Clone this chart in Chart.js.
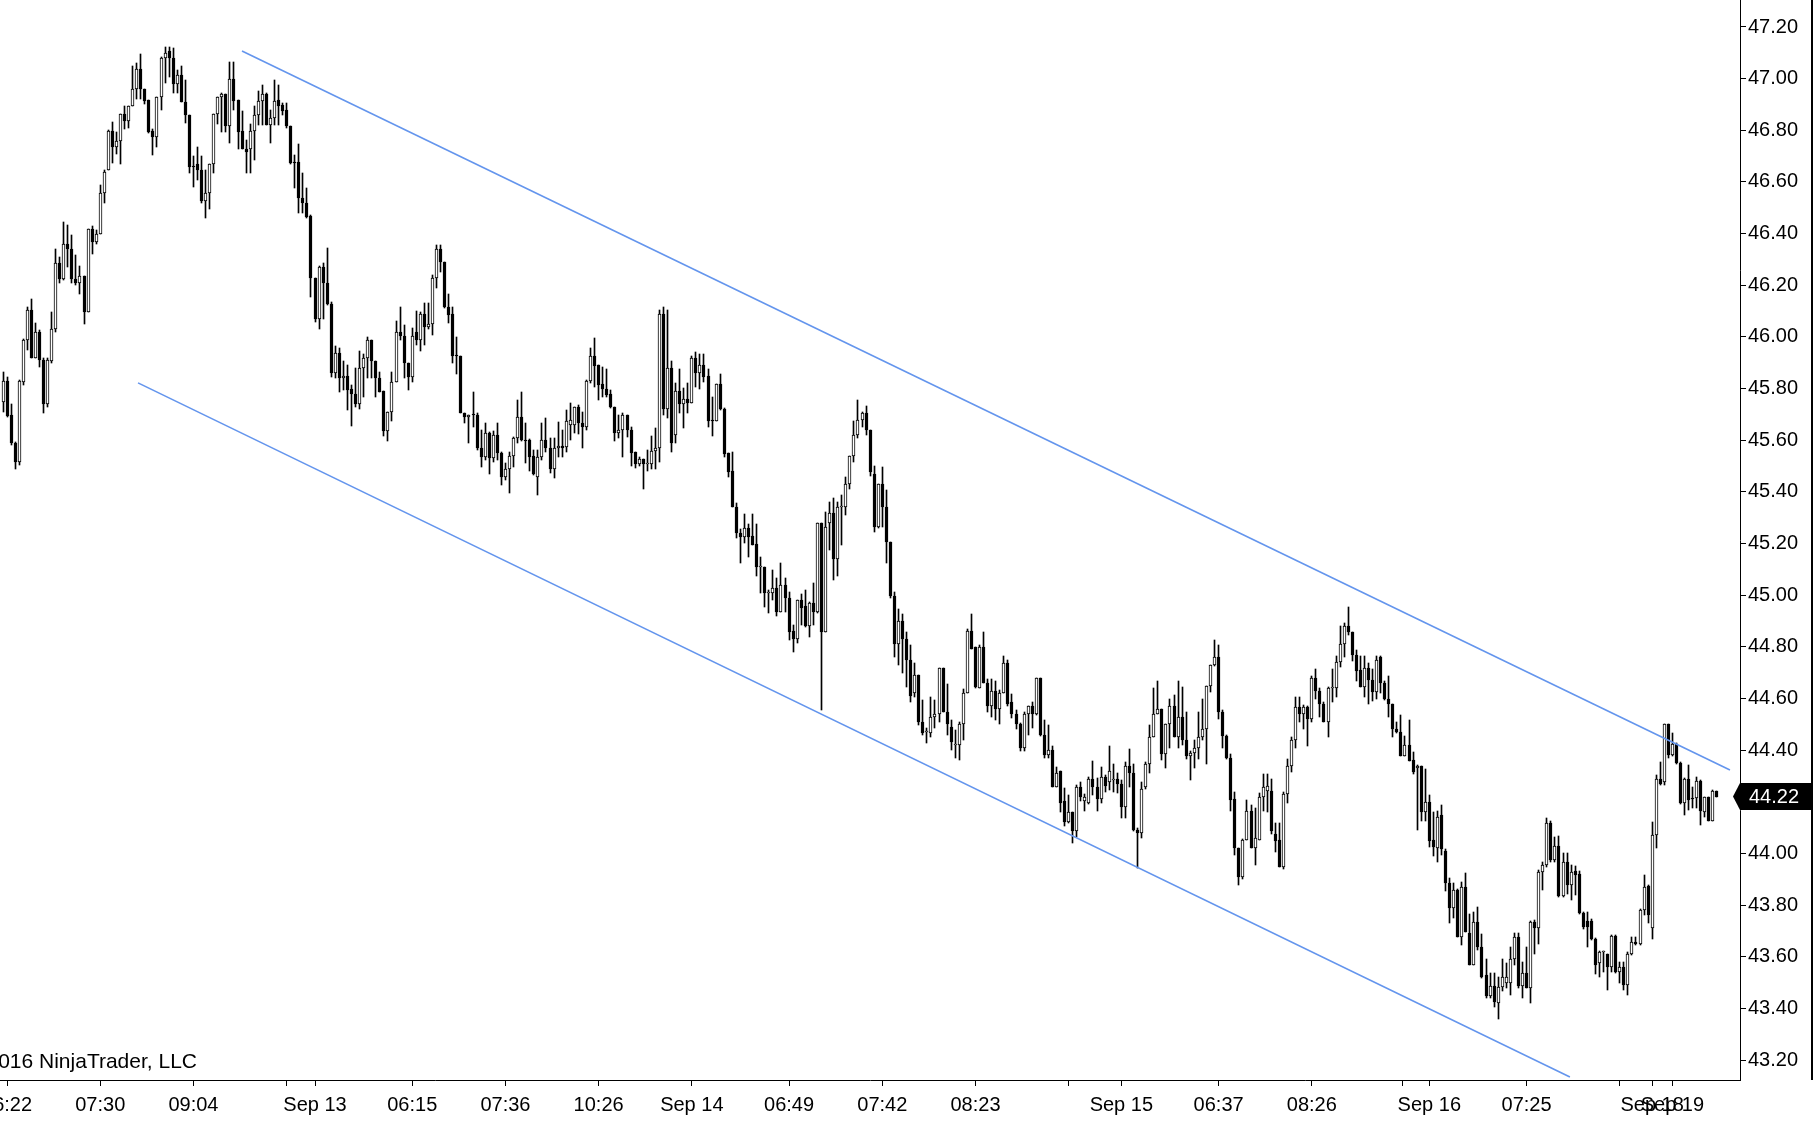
<!DOCTYPE html>
<html><head><meta charset="utf-8">
<script src="https://cdn.jsdelivr.net/npm/chart.js@4.4.0/dist/chart.umd.min.js"></script>
<style>html,body{margin:0;padding:0;background:#fff;overflow:hidden}#wrap{width:1816px;height:1121px;position:relative}</style>
</head><body><div id="wrap"><canvas id="c"></canvas></div>
<script>
const openP=[
45.746,45.829,45.697,45.590,45.517,45.826,45.988,46.106,45.917,46.019,
45.91,45.74,45.908,46.029,46.288,46.226,46.358,46.339,46.226,46.207,
46.237,46.097,46.416,46.366,46.397,46.556,46.648,46.797,46.736,46.758,
46.865,46.837,46.895,46.958,47.036,46.958,46.917,46.797,46.775,46.927,
47.078,47.108,47.078,46.979,47.016,46.908,46.859,46.659,46.669,46.648,
46.527,46.556,46.669,46.865,46.927,46.94,46.818,46.997,46.917,46.797,
46.728,46.726,46.797,46.858,46.915,46.941,46.821,46.846,46.917,46.897,
46.879,46.818,46.676,46.676,46.537,46.517,46.468,46.227,46.068,46.27,
46.207,46.127,45.859,45.936,45.84,45.849,45.797,45.778,45.739,45.878,
45.917,45.988,45.908,45.84,45.791,45.637,45.711,45.827,46.018,46.005,
45.898,45.846,46.018,45.988,46.087,46.037,46.049,46.227,46.339,46.289,
46.117,46.089,45.927,45.927,45.707,45.689,45.698,45.698,45.569,45.536,
45.627,45.53,45.62,45.552,45.459,45.487,45.539,45.607,45.689,45.601,
45.601,45.539,45.459,45.536,45.601,45.569,45.487,45.569,45.578,45.575,
45.659,45.659,45.727,45.668,45.65,45.829,45.927,45.891,45.816,45.797,
45.779,45.73,45.627,45.64,45.698,45.64,45.556,45.507,45.529,45.507,
45.507,45.558,45.569,46.087,45.72,45.878,45.62,45.79,45.74,45.758,
45.745,45.917,45.859,45.891,45.849,45.678,45.676,45.816,45.72,45.549,
45.481,45.34,45.239,45.227,45.259,45.229,45.197,45.11,45.108,45.01,
45.007,45.027,44.936,45.039,44.99,44.861,44.829,44.981,44.958,44.881,
44.968,44.936,45.278,44.859,45.278,45.317,45.139,45.34,45.343,45.43,
45.539,45.62,45.678,45.707,45.64,45.469,45.265,45.43,45.34,45.207,
44.998,44.81,44.9,44.829,44.749,44.62,44.691,44.51,44.472,44.468,
44.527,44.54,44.717,44.549,44.488,44.42,44.42,44.501,44.62,44.863,
44.798,44.64,44.798,44.659,44.571,44.629,44.558,44.62,44.739,44.588,
44.54,44.501,44.407,44.54,44.571,44.54,44.678,44.459,44.381,44.401,
44.259,44.319,44.201,44.12,44.159,44.087,44.259,44.201,44.197,44.287,
44.259,44.21,44.297,44.278,44.284,44.287,44.267,44.178,44.338,44.31,
44.09,44.078,44.258,44.348,44.449,44.538,44.559,44.385,44.501,44.571,
44.449,44.527,44.439,44.378,44.387,44.407,44.449,44.48,44.648,44.729,
44.759,44.549,44.456,44.368,44.209,44.019,43.907,44.052,44.165,44.019,
44.052,44.217,44.24,44.241,44.077,44.052,43.948,44.23,44.338,44.439,
44.568,44.538,44.568,44.519,44.678,44.629,44.578,44.507,44.639,44.639,
44.74,44.811,44.88,44.858,44.768,44.71,44.645,44.716,44.671,44.626,
44.759,44.658,44.596,44.577,44.48,44.469,44.378,44.42,44.361,44.33,
44.339,44.159,44.198,44.052,44.019,44.148,44.009,43.887,43.787,43.858,
43.677,43.868,43.693,43.568,43.735,43.639,43.529,43.448,43.488,43.42,
43.484,43.5,43.5,43.59,43.677,43.486,43.538,43.477,43.735,43.71,
43.929,43.955,44.119,43.974,44.029,43.835,43.968,43.878,43.933,43.92,
43.768,43.74,43.74,43.667,43.577,43.619,43.61,43.559,43.68,43.542,
43.559,43.49,43.609,43.658,43.648,43.781,43.874,43.71,44.071,44.287,
44.278,44.501,44.381,44.424,44.351,44.197,44.288,44.216,44.216,44.282,
44.162,44.217,44.127,44.243];
const highP=[
45.865,45.846,45.742,45.594,45.835,45.99,46.117,46.145,46.052,46.026,
45.917,45.917,46.097,46.342,46.31,46.446,46.433,46.394,46.317,46.274,
46.237,46.416,46.429,46.413,46.588,46.646,46.8,46.833,46.794,46.865,
46.894,46.895,47.049,47.059,47.095,46.958,46.917,46.805,46.927,47.085,
47.123,47.123,47.117,47.033,47.049,46.994,46.859,46.7,46.734,46.7,
46.646,46.669,46.865,46.927,46.945,46.94,47.063,47.063,46.917,46.875,
46.763,46.824,46.894,46.954,46.975,46.943,46.879,46.995,46.975,46.907,
46.907,46.818,46.704,46.747,46.636,46.578,46.472,46.227,46.275,46.285,
46.343,46.136,45.965,45.956,45.908,45.891,45.814,45.878,45.945,45.934,
45.998,45.988,45.908,45.866,45.791,45.711,45.866,46.063,46.114,46.046,
45.898,46.033,46.102,46.098,46.13,46.13,46.24,46.356,46.356,46.289,
46.165,46.115,46.0,45.927,45.707,45.698,45.785,45.707,45.639,45.668,
45.633,45.637,45.668,45.556,45.51,45.556,45.614,45.756,45.785,45.668,
45.603,45.562,45.562,45.668,45.685,45.607,45.607,45.672,45.64,45.717,
45.745,45.73,45.736,45.711,45.833,45.956,45.994,45.891,45.885,45.874,
45.794,45.73,45.698,45.707,45.698,45.652,45.556,45.536,45.529,45.562,
45.616,45.646,46.104,46.117,46.104,45.907,45.82,45.874,45.801,45.82,
45.926,45.943,45.934,45.934,45.874,45.766,45.816,45.856,45.724,45.552,
45.553,45.356,45.255,45.313,45.276,45.313,45.276,45.149,45.11,45.02,
45.098,45.065,45.123,45.065,45.014,44.884,44.981,45.005,45.02,44.975,
45.046,45.278,45.278,45.323,45.362,45.375,45.362,45.388,45.459,45.539,
45.676,45.756,45.711,45.733,45.64,45.5,45.43,45.498,45.407,45.207,
45.014,44.945,44.926,44.856,44.807,44.736,44.691,44.594,44.485,44.607,
44.594,44.717,44.717,44.656,44.517,44.478,44.51,44.636,44.868,44.927,
44.798,44.807,44.856,44.674,44.674,44.668,44.633,44.765,44.747,44.617,
44.556,44.504,44.549,44.571,44.588,44.678,44.678,44.517,44.498,44.414,
44.336,44.319,44.252,44.226,44.159,44.265,44.278,44.23,44.297,44.359,
44.291,44.333,44.304,44.416,44.347,44.31,44.284,44.355,44.403,44.348,
44.097,44.278,44.355,44.497,44.639,44.667,44.559,44.503,44.596,44.613,
44.667,44.645,44.549,44.398,44.439,44.549,44.596,44.648,44.729,44.826,
44.807,44.555,44.458,44.385,44.239,44.019,44.054,44.206,44.187,44.174,
44.235,44.307,44.307,44.29,44.116,44.119,44.239,44.364,44.449,44.607,
44.604,44.574,44.571,44.687,44.713,44.639,44.587,44.643,44.713,44.764,
44.881,44.893,44.953,44.858,44.787,44.764,44.764,44.736,44.713,44.764,
44.764,44.669,44.687,44.577,44.51,44.536,44.454,44.516,44.394,44.342,
44.339,44.325,44.226,44.161,44.165,44.187,44.016,43.903,43.884,43.861,
43.89,43.925,43.765,43.774,43.794,43.686,43.593,43.538,43.535,43.522,
43.593,43.577,43.639,43.693,43.69,43.58,43.639,43.739,43.742,43.935,
43.968,44.136,44.127,44.065,44.067,44.003,44.003,43.955,43.951,43.933,
43.774,43.774,43.745,43.671,43.623,43.623,43.61,43.684,43.684,43.581,
43.581,43.62,43.675,43.675,43.784,43.916,43.878,44.123,44.304,44.355,
44.503,44.503,44.465,44.426,44.355,44.291,44.342,44.258,44.294,44.284,
44.22,44.22,44.246,44.243];
const lowP=[
45.710,45.691,45.581,45.487,45.504,45.813,45.949,45.917,45.917,45.884,
45.706,45.73,45.897,46.02,46.207,46.22,46.269,46.207,46.2,46.168,
46.05,46.097,46.32,46.358,46.397,46.517,46.648,46.674,46.71,46.668,
46.805,46.807,46.895,46.923,46.923,46.902,46.788,46.704,46.737,46.878,
46.984,47.007,46.945,46.945,46.908,46.827,46.636,46.579,46.607,46.517,
46.459,46.497,46.636,46.824,46.794,46.794,46.749,46.879,46.726,46.726,
46.636,46.636,46.685,46.821,46.821,46.821,46.75,46.821,46.821,46.859,
46.808,46.668,46.578,46.478,46.478,46.459,46.156,46.059,46.029,46.068,
46.123,45.846,45.84,45.788,45.794,45.717,45.656,45.727,45.72,45.769,
45.84,45.84,45.769,45.788,45.618,45.598,45.676,45.827,45.988,45.84,
45.794,45.827,45.969,45.947,45.969,46.029,46.007,46.188,46.253,46.111,
46.055,45.898,45.856,45.704,45.668,45.588,45.653,45.562,45.498,45.523,
45.468,45.517,45.523,45.427,45.446,45.397,45.498,45.588,45.598,45.51,
45.482,45.465,45.388,45.523,45.556,45.472,45.452,45.536,45.536,45.556,
45.601,45.627,45.624,45.569,45.64,45.82,45.807,45.756,45.769,45.769,
45.723,45.598,45.607,45.536,45.614,45.5,45.491,45.5,45.41,45.482,
45.487,45.487,45.517,45.698,45.685,45.556,45.588,45.707,45.649,45.707,
45.745,45.807,45.797,45.827,45.65,45.618,45.676,45.717,45.536,45.459,
45.34,45.22,45.126,45.203,45.146,45.194,45.074,45.007,44.956,44.93,
44.981,44.919,44.936,44.936,44.826,44.778,44.813,44.885,44.878,44.837,
44.885,44.93,44.555,44.859,45.175,45.059,45.074,45.194,45.31,45.41,
45.517,45.607,45.652,45.62,45.462,45.246,45.259,45.265,45.126,44.988,
44.76,44.73,44.698,44.646,44.588,44.607,44.498,44.459,44.429,44.45,
44.485,44.507,44.549,44.459,44.401,44.368,44.362,44.44,44.62,44.791,
44.64,44.64,44.659,44.549,44.527,44.517,44.501,44.62,44.571,44.523,
44.481,44.398,44.398,44.459,44.485,44.536,44.455,44.368,44.368,44.259,
44.259,44.162,44.106,44.117,44.039,44.065,44.201,44.166,44.192,44.226,
44.166,44.197,44.239,44.246,44.239,44.232,44.136,44.139,44.258,44.088,
43.942,44.058,44.248,44.31,44.449,44.538,44.361,44.329,44.407,44.449,
44.41,44.42,44.364,44.284,44.329,44.364,44.439,44.348,44.626,44.725,
44.519,44.407,44.364,44.165,43.994,43.877,43.899,44.052,44.019,43.955,
44.052,44.165,44.161,44.077,44.006,43.948,43.938,44.196,44.316,44.407,
44.507,44.48,44.417,44.51,44.596,44.527,44.507,44.449,44.587,44.607,
44.723,44.759,44.845,44.746,44.669,44.645,44.607,44.577,44.591,44.596,
44.62,44.594,44.527,44.449,44.465,44.378,44.378,44.359,44.307,44.09,
44.126,44.126,44.026,43.99,43.968,43.994,43.856,43.729,43.748,43.677,
43.645,43.697,43.568,43.568,43.626,43.519,43.439,43.439,43.404,43.357,
43.468,43.477,43.452,43.568,43.477,43.439,43.477,43.419,43.61,43.649,
43.858,43.948,43.968,43.968,43.83,43.83,43.843,43.819,43.839,43.765,
43.706,43.639,43.665,43.533,43.52,43.542,43.471,43.542,43.538,43.5,
43.471,43.452,43.607,43.645,43.645,43.761,43.729,43.667,44.02,44.265,
44.265,44.368,44.377,44.346,44.191,44.149,44.168,44.174,44.174,44.11,
44.142,44.127,44.127,44.217];
const closeP=[
45.829,45.695,45.588,45.517,45.829,45.988,46.106,45.917,46.019,45.91,
45.74,45.91,46.029,46.288,46.226,46.358,46.339,46.226,46.207,46.237,
46.097,46.416,46.366,46.397,46.556,46.637,46.797,46.736,46.758,46.865,
46.837,46.895,46.958,47.036,46.958,46.914,46.794,46.775,46.927,47.078,
47.098,47.078,46.979,47.016,46.908,46.859,46.656,46.656,46.648,46.527,
46.556,46.669,46.865,46.927,46.94,46.818,46.997,46.915,46.795,46.726,
46.717,46.797,46.858,46.915,46.941,46.821,46.846,46.915,46.894,46.876,
46.818,46.672,46.672,46.537,46.517,46.466,46.227,46.068,46.27,46.207,
46.127,45.859,45.936,45.84,45.849,45.794,45.778,45.739,45.878,45.917,
45.988,45.908,45.84,45.788,45.637,45.711,45.827,46.018,46.005,45.898,
45.846,46.005,45.988,46.087,46.037,46.049,46.227,46.339,46.289,46.117,
46.085,45.927,45.925,45.707,45.689,45.698,45.697,45.569,45.536,45.627,
45.53,45.62,45.552,45.459,45.487,45.539,45.607,45.689,45.601,45.598,
45.536,45.468,45.536,45.601,45.569,45.487,45.569,45.578,45.569,45.676,
45.678,45.727,45.668,45.65,45.829,45.927,45.887,45.814,45.797,45.775,
45.73,45.627,45.64,45.698,45.64,45.549,45.507,45.529,45.507,45.507,
45.558,45.569,46.087,45.72,45.878,45.588,45.79,45.74,45.758,45.745,
45.917,45.859,45.891,45.846,45.676,45.676,45.816,45.72,45.547,45.478,
45.34,45.239,45.227,45.259,45.227,45.194,45.108,45.11,45.007,45.01,
45.027,44.936,45.039,44.988,44.859,44.829,44.981,44.949,44.881,44.968,
44.936,45.278,44.859,45.265,45.317,45.139,45.34,45.343,45.43,45.539,
45.62,45.678,45.707,45.64,45.478,45.265,45.43,45.34,45.207,44.997,
44.81,44.9,44.829,44.747,44.61,44.691,44.507,44.468,44.472,44.527,
44.54,44.717,44.549,44.501,44.43,44.42,44.501,44.62,44.863,44.791,
44.646,44.798,44.659,44.571,44.629,44.558,44.62,44.739,44.579,44.54,
44.501,44.407,44.54,44.571,44.54,44.678,44.459,44.381,44.401,44.259,
44.31,44.197,44.12,44.159,44.087,44.259,44.217,44.217,44.287,44.259,
44.21,44.297,44.261,44.319,44.284,44.267,44.178,44.338,44.31,44.09,
44.078,44.248,44.348,44.449,44.538,44.559,44.385,44.501,44.571,44.449,
44.527,44.439,44.378,44.387,44.407,44.449,44.48,44.648,44.729,44.759,
44.549,44.456,44.368,44.206,44.019,43.907,44.052,44.165,44.019,44.058,
44.217,44.258,44.261,44.088,44.049,43.948,44.23,44.338,44.439,44.568,
44.538,44.568,44.519,44.678,44.629,44.578,44.507,44.639,44.641,44.74,
44.811,44.88,44.858,44.768,44.707,44.645,44.716,44.671,44.626,44.749,
44.658,44.596,44.577,44.48,44.469,44.378,44.42,44.359,44.316,44.339,
44.159,44.198,44.049,44.026,44.142,44.016,43.887,43.787,43.858,43.677,
43.868,43.697,43.568,43.735,43.639,43.52,43.448,43.488,43.426,43.484,
43.52,43.52,43.59,43.677,43.486,43.538,43.477,43.735,43.71,43.929,
43.955,44.119,43.974,44.029,43.835,43.968,43.878,43.929,43.916,43.768,
43.716,43.716,43.667,43.568,43.619,43.619,43.559,43.68,43.542,43.559,
43.49,43.609,43.658,43.648,43.781,43.869,43.761,44.071,44.287,44.269,
44.501,44.381,44.424,44.349,44.194,44.288,44.207,44.209,44.282,44.165,
44.217,44.127,44.243,44.22];

const xTickIdx=[1,24,47,70,77,101,124,147,170,194,217,240,263,276,300,323,345.5,352,376,399,407,412];
const xTickLabels=['06:22','07:30','09:04','','Sep 13','06:15','07:36','10:26','Sep 14','06:49','07:42','08:23','','Sep 15','06:37','08:26','','Sep 16','07:25','','Sep 18','Sep 19'];
const yTicks=[43.2,43.4,43.6,43.8,44.0,44.2,44.4,44.6,44.8,45.0,45.2,45.4,45.6,45.8,46.0,46.2,46.4,46.6,46.8,47.0,47.2];
const upperChannel=[{x:58.98,y:47.107},{x:426.2,y:44.323}];
const lowerChannel=[{x:33.32,y:45.822},{x:386.7,y:43.134}];
const lastPrice=44.22;
const copyrightText='\u00A9 2016 NinjaTrader, LLC';

const FONT='"Liberation Sans", Arial, sans-serif';
Chart.defaults.font.family=FONT;

const idx=openP.map((_,i)=>i);
const wickData=idx.map(i=>({x:i,y:[Math.min(lowP[i],openP[i],closeP[i]),Math.max(highP[i],openP[i],closeP[i])]}));
const bodyData=idx.map(i=>({x:i,y:[Math.min(openP[i],closeP[i]),Math.max(openP[i],closeP[i])]}));
const bodyColors=idx.map(i=>closeP[i]>=openP[i]?'#ffffff':'#000000');

// snap the library-computed bar positions to the pixel grid for crisp candles
const pixelSnap={
  id:'pixelSnap',
  beforeDatasetsDraw(chart){
    chart.data.datasets.forEach((ds,di)=>{
      const meta=chart.getDatasetMeta(di);
      if(meta.type!=='bar') return;
      meta.data.forEach(el=>{
        el.x=Math.floor(el.x)+0.5;
        const top=Math.round(Math.min(el.y,el.base)), bot=Math.round(Math.max(el.y,el.base));
        el.y=top; el.base=Math.max(bot,top+1);
      });
    });
  }
};

const extras={
  id:'extras',
  afterDraw(chart){
    const ctx=chart.ctx, ys=chart.scales.y, ca=chart.chartArea;
    ctx.save();
    ctx.strokeStyle='#000'; ctx.lineWidth=2;
    ctx.beginPath(); ctx.moveTo(1812,0); ctx.lineTo(1812,ca.bottom); ctx.stroke();
    const y=ys.getPixelForValue(lastPrice);
    ctx.fillStyle='#000';
    ctx.beginPath();
    ctx.moveTo(ca.right-7,y); ctx.lineTo(ca.right,y-13.5); ctx.lineTo(1813,y-13.5);
    ctx.lineTo(1813,y+13.5); ctx.lineTo(ca.right,y+13.5); ctx.closePath(); ctx.fill();
    ctx.fillStyle='#fff'; ctx.font='20px '+FONT; ctx.textAlign='left'; ctx.textBaseline='middle';
    ctx.fillText(lastPrice.toFixed(2),ca.right+9,y+1);
    ctx.fillStyle='#000'; ctx.textAlign='right'; ctx.font='21px '+FONT;
    ctx.fillText(copyrightText,197,1062);
    ctx.restore();
  }
};

new Chart(document.getElementById('c'),{
  type:'bar',
  data:{datasets:[
    {type:'line',data:upperChannel,borderColor:'#6495ED',borderWidth:1.6,pointRadius:0,order:0,fill:false},
    {type:'line',data:lowerChannel,borderColor:'#6495ED',borderWidth:1.6,pointRadius:0,order:0,fill:false},
    {data:bodyData,backgroundColor:bodyColors,borderColor:'#000',borderWidth:1,borderSkipped:false,barThickness:3,minBarLength:1,grouped:false,order:1},
    {data:wickData,backgroundColor:'#000',borderWidth:0,barThickness:1,minBarLength:1,grouped:false,order:2}
  ]},
  options:{
    responsive:true,maintainAspectRatio:false,animation:false,
    layout:{padding:0},
    plugins:{legend:{display:false},tooltip:{enabled:false}},
    events:[],
    scales:{
      x:{type:'linear',position:'bottom',min:-3/4.052,max:(1740-3)/4.052,offset:false,
        grid:{display:true,offset:false,drawOnChartArea:false,drawTicks:true,tickLength:6,color:'#000',lineWidth:1},
        border:{display:true,color:'#000',width:1},
        ticks:{autoSkip:false,maxRotation:0,minRotation:0,padding:7,color:'#000',font:{size:20,family:FONT},
          callback:(v,i)=>xTickLabels[i]},
        afterBuildTicks:s=>{s.ticks=xTickIdx.map(v=>({value:v}));},
        afterFit:s=>{s.height=41;s.paddingLeft=0;s.paddingRight=0;}
      },
      y:{type:'linear',position:'right',min:43.1226,max:47.3045,
        grid:{display:true,offset:false,drawOnChartArea:false,drawTicks:true,tickLength:6,color:'#000',lineWidth:1},
        border:{display:true,color:'#000',width:1},
        ticks:{padding:2,color:'#000',font:{size:20,family:FONT},callback:v=>Number(v).toFixed(2)},
        afterBuildTicks:s=>{s.ticks=yTicks.map(v=>({value:v}));},
        afterFit:s=>{s.width=76;s.paddingTop=0;s.paddingBottom=0;}
      }
    }
  },
  plugins:[pixelSnap,extras]
});
</script>
</body></html>
